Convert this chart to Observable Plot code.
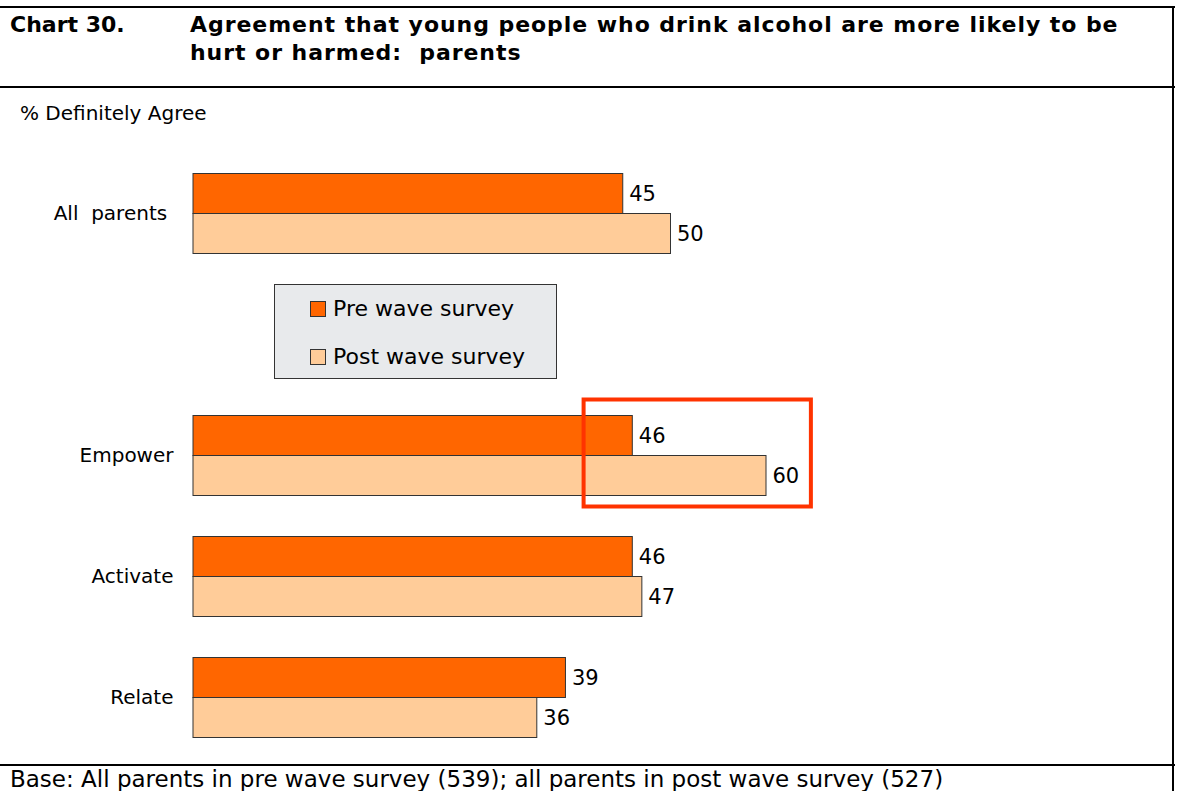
<!DOCTYPE html>
<html>
<head>
<meta charset="utf-8">
<script src="https://cdn.jsdelivr.net/npm/d3@7"></script>
<script src="https://cdn.jsdelivr.net/npm/@observablehq/plot@0.6"></script>
<style>
  html, body { margin: 0; padding: 0; background: #fff; }
  #page { position: relative; width: 1180px; height: 791px; overflow: hidden; font-family: "DejaVu Sans", sans-serif; color: #000; }
  .hline { position: absolute; left: 0; width: 1175px; height: 2px; background: #000; }
  .vline { position: absolute; left: 1172px; top: 6px; width: 2px; height: 800px; background: #000; }
  .t { position: absolute; white-space: pre; }
  #chart { position: absolute; left: 0; top: 88px; }
  #chart svg text { white-space: pre; }
  #legend { position: absolute; left: 274px; top: 284px; width: 281px; height: 93px; background: #e8eaec; border: 1px solid #333; }
  .sw { position: absolute; left: 35px; width: 14px; height: 14px; border: 1px solid #333; }
  .lt { position: absolute; left: 58px; font-size: 22px; white-space: pre; }
</style>
</head>
<body>
<div id="page">
  <div class="hline" style="top:6px"></div>
  <div class="hline" style="top:86px"></div>
  <div class="hline" style="top:764px"></div>
  <div class="vline"></div>
  <div class="t" id="chartNo" style="left:10px; top:11px; font-weight:bold; font-size:22px; line-height:28px;"></div>
  <div class="t" id="title" style="left:190px; top:11px; font-weight:bold; font-size:22px; line-height:28px; letter-spacing:0.95px;"></div>
  <div class="t" id="subtitle" style="left:20px; top:101px; font-size:20px;"></div>
  <div id="chart"></div>
  <div id="legend"></div>
  <div class="t" id="footer" style="left:10px; top:766px; font-size:23px;"></div>
</div>
<script>
// ---- data ----
const categories = ["All  parents ", "Empower", "Activate", "Relate"];
const preWave = [45, 46, 46, 39];
const postWave = [50, 60, 47, 36];
const seriesNames = ["Pre wave survey", "Post wave survey"];
const seriesColors = ["#ff6600", "#ffcc99"];
const legendSlot = "";              // empty row where the legend sits
const yDomain = [categories[0], legendSlot, ...categories.slice(1)];
const highlightCategory = "Empower";
const highlightRange = [40.9, 64.7];

const chartNo = "Chart 30.";
const titleLines = ["Agreement that young people who drink alcohol are more likely to be", "hurt or harmed:  parents"];
const subtitle = "% Definitely Agree";
const footer = "Base: All parents in pre wave survey (539); all parents in post wave survey (527)";

document.getElementById("chartNo").textContent = chartNo;
document.getElementById("title").textContent = titleLines.join("\n");
document.getElementById("subtitle").textContent = subtitle;
document.getElementById("footer").textContent = footer;

// legend
const leg = document.getElementById("legend");
seriesNames.forEach((name, i) => {
  const sw = document.createElement("div");
  sw.className = "sw";
  sw.style.top = (16 + i * 48) + "px";
  sw.style.background = seriesColors[i];
  leg.appendChild(sw);
  const lt = document.createElement("div");
  lt.className = "lt";
  lt.style.top = (11 + i * 48) + "px";
  lt.textContent = name;
  leg.appendChild(lt);
});

// ---- chart ----
const pre = categories.map((c, i) => ({category: c, value: preWave[i]}));
const post = categories.map((c, i) => ({category: c, value: postWave[i]}));
const half = 60.5, barH = 40;

const plot = Plot.plot({
  width: 1180,
  height: 677,
  marginLeft: 193, marginRight: 32, marginTop: 0, marginBottom: 0,
  style: {fontFamily: "DejaVu Sans, sans-serif", fontSize: "20px", color: "#000", background: "transparent", overflow: "visible"},
  x: {domain: [0, 100], range: [193, 1148], axis: null},
  y: {domain: yDomain, range: [64.5, 669.5], padding: 0, axis: null},
  marks: [
    Plot.axisY({tickSize: 0, tickPadding: 20, fontSize: 20, label: null, tickFormat: d => d, anchor: "left"}),
    Plot.barX(pre, {x: "value", y: "category", fill: seriesColors[0], stroke: "#333", strokeWidth: 1,
      insetTop: half - barH, insetBottom: half}),
    Plot.barX(post, {x: "value", y: "category", fill: seriesColors[1], stroke: "#333", strokeWidth: 1,
      insetTop: half, insetBottom: half - barH}),
    Plot.text(pre, {x: "value", y: "category", text: d => String(d.value), dx: 6, dy: -20, textAnchor: "start", fontSize: 21, fill: "#000"}),
    Plot.text(post, {x: "value", y: "category", text: d => String(d.value), dx: 6, dy: 20, textAnchor: "start", fontSize: 21, fill: "#000"}),
    Plot.barX([{category: highlightCategory, x1: highlightRange[0], x2: highlightRange[1]}],
      {x1: "x1", x2: "x2", y: "category", fill: "none", stroke: "#ff3300", strokeWidth: 4, insetTop: 4.5, insetBottom: 9.5})
  ]
});
document.getElementById("chart").appendChild(plot);
</script>
</body>
</html>
